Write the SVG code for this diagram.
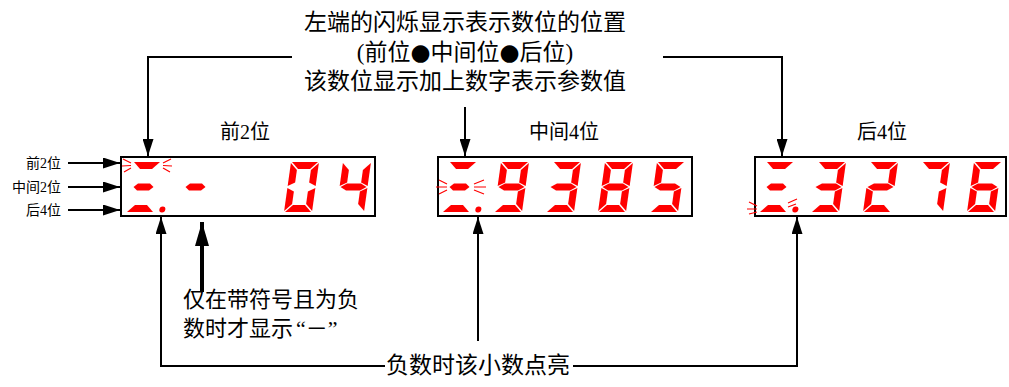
<svg xmlns="http://www.w3.org/2000/svg" xmlns:xlink="http://www.w3.org/1999/xlink" width="1009" height="387" viewBox="0 0 1009 387">
<style>
.t{font-family:"Liberation Serif","Noto Sans CJK SC",serif;fill:#000}
.dot{font-family:"DejaVu Sans",sans-serif}
.box{fill:#fff;stroke:#000;stroke-width:2}
.seg{fill:#ff0000}
.ray{stroke:#ff0000;stroke-width:1.2;fill:none}
.ln{stroke:#000;stroke-width:2;fill:none}
.bold{stroke:#000;stroke-width:4;fill:none}
</style>
<defs>
<marker id="ah" viewBox="0 0 17 11" refX="17" refY="5.5" markerWidth="17" markerHeight="11" markerUnits="userSpaceOnUse" orient="auto"><path d="M0,0 L17,5.5 L0,11 Z" fill="#000"/></marker>
<marker id="ahb" viewBox="0 0 24 14" refX="24" refY="7" markerWidth="24" markerHeight="14" markerUnits="userSpaceOnUse" orient="auto"><path d="M0,0 L24,7 L0,14 Z" fill="#000"/></marker>
<path id="sa" d="M1,-50 H27 L20,-43 H8 Z"/>
<path id="sb" d="M28,-49 V-26 L21,-29.5 V-42 Z"/>
<path id="sc" d="M28,-24 V-1 L21,-8 V-20.5 Z"/>
<path id="sd" d="M1,0 H27 L20,-7 H8 Z"/>
<path id="se" d="M0,-24 V-1 L7,-8 V-20.5 Z"/>
<path id="sf" d="M0,-49 V-26 L7,-29.5 V-42 Z"/>
<path id="sg" d="M1,-25 L7,-28.5 H21 L27,-25 L21,-21.5 H7 Z"/>
<path id="sh" d="M4,-25 L8,-28.5 H20 L24,-25 L20,-21.5 H8 Z"/>
<g id="ind"><use xlink:href="#sa"/><use xlink:href="#sh"/><use xlink:href="#sd"/><circle cx="36" cy="-2.5" r="3"/></g>
<g id="d0"><use xlink:href="#sa"/><use xlink:href="#sb"/><use xlink:href="#sc"/><use xlink:href="#sd"/><use xlink:href="#se"/><use xlink:href="#sf"/></g>
<g id="d2"><use xlink:href="#sa"/><use xlink:href="#sb"/><use xlink:href="#sg"/><use xlink:href="#se"/><use xlink:href="#sd"/></g>
<g id="d3"><use xlink:href="#sa"/><use xlink:href="#sb"/><use xlink:href="#sg"/><use xlink:href="#sc"/><use xlink:href="#sd"/></g>
<g id="d4"><use xlink:href="#sf"/><use xlink:href="#sg"/><use xlink:href="#sb"/><use xlink:href="#sc"/></g>
<g id="d5"><use xlink:href="#sa"/><use xlink:href="#sf"/><use xlink:href="#sg"/><use xlink:href="#sc"/><use xlink:href="#sd"/></g>
<g id="d6"><use xlink:href="#sa"/><use xlink:href="#sf"/><use xlink:href="#sg"/><use xlink:href="#se"/><use xlink:href="#sd"/><use xlink:href="#sc"/></g>
<g id="d7"><use xlink:href="#sa"/><use xlink:href="#sb"/><use xlink:href="#sc"/></g>
<g id="d8"><use xlink:href="#sa"/><use xlink:href="#sb"/><use xlink:href="#sc"/><use xlink:href="#sd"/><use xlink:href="#se"/><use xlink:href="#sf"/><use xlink:href="#sg"/></g>
<g id="d9"><use xlink:href="#sa"/><use xlink:href="#sb"/><use xlink:href="#sc"/><use xlink:href="#sd"/><use xlink:href="#sf"/><use xlink:href="#sg"/></g>
</defs>

<g id="top-note">
<text class="t" x="465" y="30" font-size="23" text-anchor="middle">左端的闪烁显示表示数位的位置</text>
<text class="t" x="465" y="59.5" font-size="23" text-anchor="middle">(前位<tspan class="dot">●</tspan>中间位<tspan class="dot">●</tspan>后位)</text>
<text class="t" x="465" y="89" font-size="23" text-anchor="middle">该数位显示加上数字表示参数值</text>
</g>

<g id="display1">
<text class="t" x="245" y="139" font-size="20" text-anchor="middle">前2位</text>
<rect class="box" x="121" y="157" width="254" height="59"/>
<g class="seg">
<use xlink:href="#ind" transform="translate(126,212) skewX(-8)"/>
<use xlink:href="#sh" transform="translate(178,212) skewX(-8)"/>
<use xlink:href="#d0" transform="translate(284,212) skewX(-8)"/>
<use xlink:href="#d4" transform="translate(336,212) skewX(-8)"/>
</g>
<path class="ray" d="M131,163 L123,159 M131,165.5 L122,166 M131,168 L124,172 M163,163 L171,159 M163,165.5 L172,166 M163,168 L170,172"/>
</g>

<g id="display2">
<text class="t" x="564" y="139" font-size="20" text-anchor="middle">中间4位</text>
<rect class="box" x="438" y="157" width="254" height="59"/>
<g class="seg">
<use xlink:href="#ind" transform="translate(442,212) skewX(-8)"/>
<use xlink:href="#d9" transform="translate(494,212) skewX(-8)"/>
<use xlink:href="#d3" transform="translate(546,212) skewX(-8)"/>
<use xlink:href="#d8" transform="translate(598,212) skewX(-8)"/>
<use xlink:href="#d5" transform="translate(650,212) skewX(-8)"/>
</g>
<path class="ray" d="M447,184 L439,180 M447,187 L436,187 M447,190 L439,194 M474,184 L484,180 M474,187 L486,187 M474,190 L484,194"/>
</g>

<g id="display3">
<text class="t" x="882" y="139" font-size="20" text-anchor="middle">后4位</text>
<rect class="box" x="755" y="157" width="251" height="59"/>
<g class="seg">
<use xlink:href="#ind" transform="translate(759,212) skewX(-8)"/>
<use xlink:href="#d3" transform="translate(811,212) skewX(-8)"/>
<use xlink:href="#d2" transform="translate(863,212) skewX(-8)"/>
<use xlink:href="#d7" transform="translate(915,212) skewX(-8)"/>
<use xlink:href="#d6" transform="translate(967,212) skewX(-8)"/>
</g>
<path class="ray" d="M757,206 L749,202 M757,209 L747,209 M757,212 L749,214 M788,203 L797,199 M788,207 L796,204"/>
</g>

<g id="row-labels">
<text class="t" x="61" y="168" font-size="14" text-anchor="end">前2位</text>
<text class="t" x="61" y="192" font-size="14" text-anchor="end">中间2位</text>
<text class="t" x="61" y="215" font-size="14" text-anchor="end">后4位</text>
</g>

<g id="sign-note">
<text class="t" x="183" y="307" font-size="22">仅在带符号且为负</text>
<text class="t" x="183" y="336" font-size="22">数时才显示<tspan dx="3">“－”</tspan></text>
</g>

<g id="dot-note">
<text class="t" x="478" y="373" font-size="23" text-anchor="middle">负数时该小数点亮</text>
</g>

<g id="connectors">
<path class="ln" d="M292,57 H148 V156" marker-end="url(#ah)"/>
<path class="ln" d="M663,57 H782 V156" marker-end="url(#ah)"/>
<path class="ln" d="M465,107 V156" marker-end="url(#ah)"/>
<path class="ln" d="M68,163 H120" marker-end="url(#ah)"/>
<path class="ln" d="M68,187 H120" marker-end="url(#ah)"/>
<path class="ln" d="M68,210 H120" marker-end="url(#ah)"/>
<path class="ln" d="M385,366 H161 V217" marker-end="url(#ah)"/>
<path class="ln" d="M573,366 H797 V217" marker-end="url(#ah)"/>
<path class="ln" d="M478,341 V217" marker-end="url(#ah)"/>
<path class="bold" d="M202,292 V222" marker-end="url(#ahb)"/>
</g>
</svg>
